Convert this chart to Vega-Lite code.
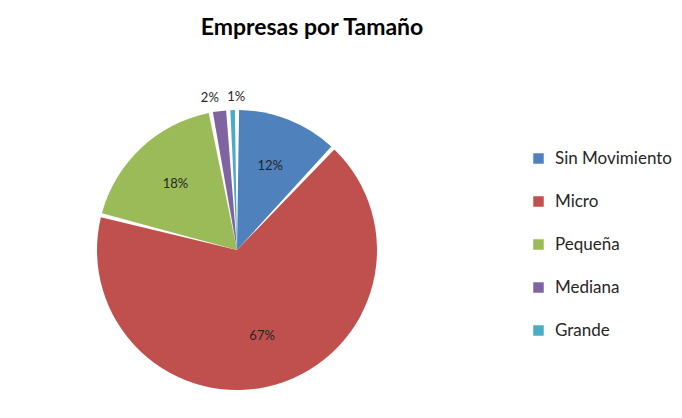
{
  "$schema": "https://vega.github.io/schema/vega-lite/v6.json",
  "autosize": {"type": "none"},
  "width": 474,
  "height": 336,
  "padding": {"left": 0, "top": 82, "right": 208, "bottom": 0},
  "background": "white",
  "title": {
    "text": "Empresas por Tamaño",
    "font": "Lato",
    "fontSize": 23,
    "fontWeight": "bold",
    "color": "#000000",
    "anchor": "middle",
    "dx": 75,
    "offset": 42
  },
  "data": {
    "values": [
      {"tamano": "Sin Movimiento", "share": 0.12},
      {"tamano": "Micro", "share": 0.67},
      {"tamano": "Pequeña", "share": 0.18},
      {"tamano": "Mediana", "share": 0.02},
      {"tamano": "Grande", "share": 0.01}
    ]
  },
  "encoding": {
    "theta": {"field": "share", "type": "quantitative", "stack": true},
    "order": {"field": "order", "type": "quantitative"}
  },
  "transform": [{"window": [{"op": "row_number", "as": "order"}]}],
  "layer": [
    {
      "mark": {"type": "arc", "outerRadius": 140, "padAngle": 0.03, "strokeWidth": 0},
      "encoding": {
        "color": {
          "field": "tamano",
          "type": "nominal",
          "sort": ["Sin Movimiento", "Micro", "Pequeña", "Mediana", "Grande"],
          "scale": {
            "domain": ["Sin Movimiento", "Micro", "Pequeña", "Mediana", "Grande"],
            "range": ["#4F81BD", "#C0504D", "#9BBB59", "#8064A2", "#4BACC6"]
          },
          "legend": {
            "title": null,
            "orient": "none",
            "legendX": 530,
            "legendY": 68,
            "symbolType": "square",
            "symbolSize": 110,
            "symbolStrokeWidth": 0,
            "labelFont": "Lato",
            "labelFontSize": 17,
            "labelColor": "#262626",
            "labelOffset": 8,
            "rowPadding": 25
          }
        }
      }
    },
    {
      "mark": {"type": "text", "radius": 90, "font": "Lato", "fontSize": 13, "color": "#262626"},
      "encoding": {
        "text": {
          "condition": {"test": "datum.share >= 0.05", "field": "share", "type": "quantitative", "format": ".0%"},
          "value": ""
        }
      }
    },
    {
      "mark": {"type": "text", "radius": 153, "dx": -8, "font": "Lato", "fontSize": 13, "color": "#262626"},
      "encoding": {
        "text": {
          "condition": {"test": "datum.tamano == 'Mediana'", "field": "share", "type": "quantitative", "format": ".0%"},
          "value": ""
        }
      }
    },
    {
      "mark": {"type": "text", "radius": 153, "dx": 4, "font": "Lato", "fontSize": 13, "color": "#262626"},
      "encoding": {
        "text": {
          "condition": {"test": "datum.tamano == 'Grande'", "field": "share", "type": "quantitative", "format": ".0%"},
          "value": ""
        }
      }
    }
  ]
}
